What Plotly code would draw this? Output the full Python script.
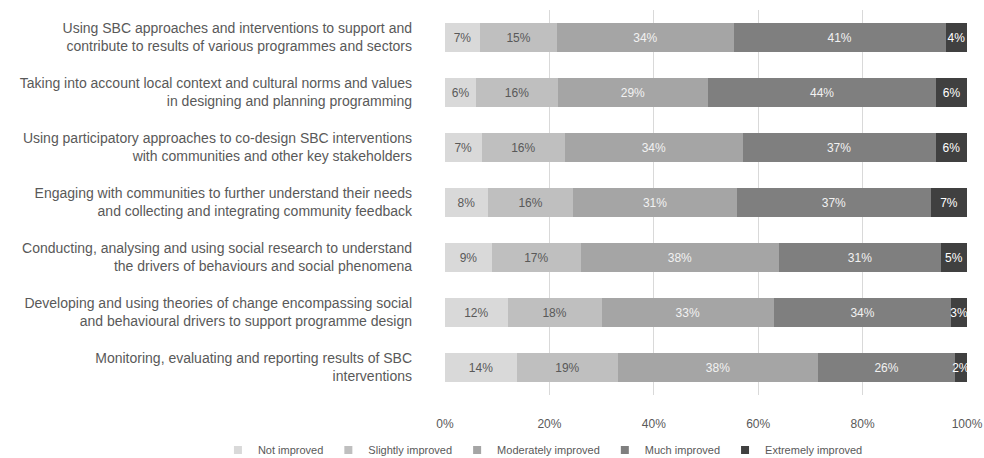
import plotly.graph_objects as go

categories = [
    "Using SBC approaches and interventions to support and<br>contribute to results of various programmes and sectors",
    "Taking into account local context and cultural norms and values<br>in designing and planning programming",
    "Using participatory approaches to co-design SBC interventions<br>with communities and other key stakeholders",
    "Engaging with communities to further understand their needs<br>and collecting and integrating community feedback",
    "Conducting, analysing and using social research to understand<br>the drivers of behaviours and social phenomena",
    "Developing and using theories of change encompassing social<br>and behavioural drivers to support programme design",
    "Monitoring, evaluating and reporting results of SBC<br>interventions",
]

not_improved = [6.7, 6.0, 7.0, 8.2, 9.0, 12.0, 13.8]
slightly_improved = [14.8, 15.6, 16.0, 16.4, 17.0, 18.0, 19.3]
moderately_improved = [33.8, 28.8, 34.0, 31.3, 38.0, 33.0, 38.4]
much_improved = [40.6, 43.7, 37.0, 37.2, 31.0, 34.0, 26.2]
extremely_improved = [4.1, 5.9, 6.0, 6.9, 5.0, 3.0, 2.3]

series_names = ["Not improved", "Slightly improved", "Moderately improved",
                "Much improved", "Extremely improved"]
series_values = [not_improved, slightly_improved, moderately_improved,
                 much_improved, extremely_improved]
colors = ["#D9D9D9", "#BFBFBF", "#A5A5A5", "#7F7F7F", "#404040"]
text_colors = ["#595959", "#595959", "#F2F2F2", "#F2F2F2", "#FFFFFF"]

x_ticks = [0, 20, 40, 60, 80, 100]
x_tick_labels = ["0%", "20%", "40%", "60%", "80%", "100%"]

FONT = "Liberation Sans, Arial, sans-serif"

fig = go.Figure()
for name, vals, col, tcol in zip(series_names, series_values, colors, text_colors):
    fig.add_trace(go.Bar(
        y=categories, x=vals, name=name, orientation="h",
        marker=dict(color=col, line=dict(width=0)),
        texttemplate="%{x:.0f}%", textposition="inside",
        insidetextanchor="middle", textangle=0,
        textfont=dict(family=FONT, size=12, color=tcol),
        showlegend=False, hoverinfo="skip",
    ))
    fig.add_trace(go.Scatter(
        x=[None], y=[None], mode="markers", name=name,
        marker=dict(symbol="square", size=8, color=col),
        showlegend=True,
    ))

fig.update_layout(
    width=984, height=458,
    barmode="stack", bargap=0.47,
    paper_bgcolor="white", plot_bgcolor="white",
    margin=dict(l=445, r=17, t=10, b=63, autoexpand=False),
    font=dict(family=FONT, color="#595959"),
    uniformtext=dict(minsize=12, mode="show"),
    legend=dict(orientation="h", x=-0.435, xanchor="left", y=-0.143,
                yanchor="middle", traceorder="normal",
                font=dict(size=11, color="#595959"),
                itemwidth=30, bgcolor="rgba(0,0,0,0)"),
)
fig.update_xaxes(range=[0, 100], tickvals=x_ticks, ticktext=x_tick_labels,
                 showgrid=True, gridcolor="#D9D9D9", gridwidth=1,
                 zeroline=False, showline=False, ticks="",
                 ticklabelstandoff=20,
                 tickfont=dict(size=12, color="#595959"), fixedrange=True)
fig.update_yaxes(autorange="reversed", showgrid=False, ticks="",
                 ticklabelstandoff=32, showline=False,
                 tickfont=dict(size=14, color="#595959"))

fig.write_html("out.html")
